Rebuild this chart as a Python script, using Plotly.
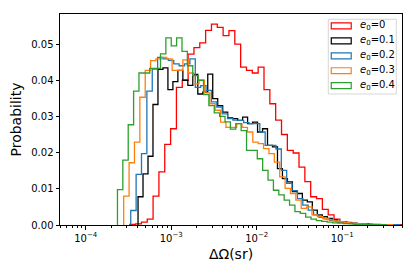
import numpy as np
import plotly.graph_objects as go

# ---- data ----
labels = ["0", "0.1", "0.2", "0.3", "0.4"]
colors = ["#ff0000", "#000000", "#1f77b4", "#ff7f0e", "#2ca02c"]
# first and last bin edge of each histogram (sr), log-spaced bins
bin_lo = [3.27e-4, 4.09e-4, 3.36e-4, 2.78e-4, 2.35e-4]
bin_hi = [0.848, 0.334, 0.469, 0.389, 0.328]

p_e0_0 = [0.0002, 0.0003, 0.0008, 0.0016, 0.0080, 0.0147, 0.0223, 0.0266, 0.0380, 0.0400,
          0.0472, 0.0490, 0.0503, 0.0538, 0.0555, 0.0546, 0.0523, 0.0537, 0.0500, 0.0436,
          0.0427, 0.0420, 0.0436, 0.0374, 0.0335, 0.0290, 0.0250, 0.0206, 0.0199, 0.0160,
          0.0120, 0.0078, 0.0073, 0.0043, 0.0028, 0.0016, 0.0009, 0.0007, 0.0005, 0.0003,
          0.0004, 0.0002, 0.0002, 0.0001, 0.0001, 0.0001, 0.0001, 0.0001, 0.0001, 0.0001]
p_e0_1 = [0.0078, 0.0141, 0.0190, 0.0333, 0.0430, 0.0434, 0.0374, 0.0396, 0.0427, 0.0400,
          0.0386, 0.0416, 0.0362, 0.0367, 0.0417, 0.0349, 0.0330, 0.0312, 0.0296, 0.0294,
          0.0289, 0.0298, 0.0280, 0.0284, 0.0257, 0.0266, 0.0220, 0.0216, 0.0156, 0.0128,
          0.0119, 0.0092, 0.0087, 0.0069, 0.0064, 0.0041, 0.0028, 0.0023, 0.0018, 0.0014,
          0.0009, 0.0008, 0.0005, 0.0004, 0.0003, 0.0002, 0.0002, 0.0001, 0.0001, 0.0001]
p_e0_2 = [0.0040, 0.0140, 0.0197, 0.0370, 0.0431, 0.0463, 0.0459, 0.0455, 0.0445, 0.0440,
          0.0445, 0.0459, 0.0380, 0.0385, 0.0372, 0.0340, 0.0326, 0.0307, 0.0294, 0.0290,
          0.0289, 0.0283, 0.0280, 0.0280, 0.0257, 0.0220, 0.0220, 0.0210, 0.0151, 0.0115,
          0.0095, 0.0073, 0.0055, 0.0041, 0.0028, 0.0021, 0.0017, 0.0013, 0.0010, 0.0008,
          0.0006, 0.0005, 0.0004, 0.0003, 0.0002, 0.0001, 0.0001, 0.0001, 0.0001, 0.0001]
p_e0_3 = [0.0080, 0.0172, 0.0229, 0.0353, 0.0427, 0.0454, 0.0459, 0.0463, 0.0459, 0.0427,
          0.0427, 0.0456, 0.0420, 0.0390, 0.0400, 0.0365, 0.0335, 0.0317, 0.0284, 0.0270,
          0.0270, 0.0280, 0.0270, 0.0257, 0.0229, 0.0225, 0.0211, 0.0197, 0.0174, 0.0133,
          0.0101, 0.0087, 0.0069, 0.0046, 0.0050, 0.0028, 0.0023, 0.0018, 0.0014, 0.0011,
          0.0009, 0.0007, 0.0005, 0.0004, 0.0003, 0.0002, 0.0002, 0.0001, 0.0001, 0.0001]
p_e0_4 = [0.0098, 0.0179, 0.0277, 0.0370, 0.0420, 0.0420, 0.0433, 0.0433, 0.0473, 0.0517,
          0.0495, 0.0517, 0.0480, 0.0440, 0.0413, 0.0400, 0.0360, 0.0330, 0.0310, 0.0300,
          0.0285, 0.0265, 0.0280, 0.0261, 0.0206, 0.0206, 0.0183, 0.0151, 0.0124, 0.0096,
          0.0083, 0.0069, 0.0055, 0.0037, 0.0032, 0.0022, 0.0016, 0.0012, 0.0010, 0.0008,
          0.0006, 0.0005, 0.0004, 0.0003, 0.0002, 0.0002, 0.0001, 0.0001, 0.0001, 0.0001]
series = [p_e0_0, p_e0_1, p_e0_2, p_e0_3, p_e0_4]

x_tickvals = [1e-4, 1e-3, 1e-2, 1e-1]
x_ticktext = ["10<sup>\u22124</sup>", "10<sup>\u22123</sup>", "10<sup>\u22122</sup>", "10<sup>\u22121</sup>"]
y_tickvals = [0.00, 0.01, 0.02, 0.03, 0.04, 0.05]
x_limits = [5e-5, 0.5]
y_limits = [0.0, 0.0583]

FONT = "DejaVu Sans"
fig = go.Figure()

for vals, lo, hi, col, lab in zip(series, bin_lo, bin_hi, colors, labels):
    n = len(vals)
    edges = np.logspace(np.log10(lo), np.log10(hi), n + 1)
    xs = [edges[0]] + list(edges[:-1]) + [edges[-1]]
    ys = [0.0] + list(vals) + [0.0]
    fig.add_trace(go.Scatter(x=xs, y=ys, mode="lines", line=dict(color=col, width=1.3, shape="hv"),
                             name="e0=" + lab, showlegend=False, hoverinfo="skip"))

minor_vals = [m * 10.0 ** k for k in range(-5, 0) for m in range(2, 10)
              if x_limits[0] <= m * 10.0 ** k <= x_limits[1]]

fig.update_xaxes(type="log", range=[np.log10(x_limits[0]), np.log10(x_limits[1])],
                 tickvals=x_tickvals, ticktext=x_ticktext, ticks="outside", ticklen=3.5,
                 tickwidth=0.8, tickcolor="black", showgrid=False, zeroline=False,
                 showline=True, linecolor="black", linewidth=1, mirror=True,
                 tickfont=dict(family=FONT, size=10, color="black"),
                 minor=dict(tickvals=minor_vals, ticks="outside", ticklen=2, tickwidth=0.6,
                            tickcolor="black", showgrid=False),
                 title=dict(text="\u0394\u03a9(sr)", font=dict(family=FONT, size=14, color="black"),
                            standoff=6))
fig.update_yaxes(range=y_limits, tickvals=y_tickvals, tickformat=".2f", ticks="outside",
                 ticklen=3.5, tickwidth=0.8, tickcolor="black", showgrid=False, zeroline=False,
                 showline=True, linecolor="black", linewidth=1, mirror=True,
                 tickfont=dict(family=FONT, size=10, color="black"),
                 title=dict(text="Probability", font=dict(family=FONT, size=14, color="black"),
                            standoff=8))

# legend (matplotlib-style patches)
shapes = [dict(type="rect", xref="paper", yref="paper", x0=0.7845, x1=0.9834, y0=0.621, y1=0.975,
               line=dict(color="#cccccc", width=0.8), fillcolor="rgba(255,255,255,0.8)", layer="above")]
annotations = []
for i, (col, lab) in enumerate(zip(colors, labels)):
    yc = 0.9434 - i * 0.07075
    shapes.append(dict(type="rect", xref="paper", yref="paper", x0=0.7932, x1=0.8515,
                       y0=yc - 0.0142, y1=yc + 0.0142, line=dict(color=col, width=1.2),
                       fillcolor="rgba(0,0,0,0)", layer="above"))
    annotations.append(dict(xref="paper", yref="paper", x=0.8719, y=yc, xanchor="left", yanchor="middle",
                            text="<i>e</i><sub>0</sub>=" + lab, showarrow=False,
                            font=dict(family=FONT, size=10, color="black")))

# the page body adds an 8px offset; size and margins compensate for it
fig.update_layout(width=407, height=269, margin=dict(l=50, r=13, t=5, b=52),
                  paper_bgcolor="white", plot_bgcolor="white", showlegend=False,
                  shapes=shapes, annotations=annotations)

fig.write_html("out.html")
